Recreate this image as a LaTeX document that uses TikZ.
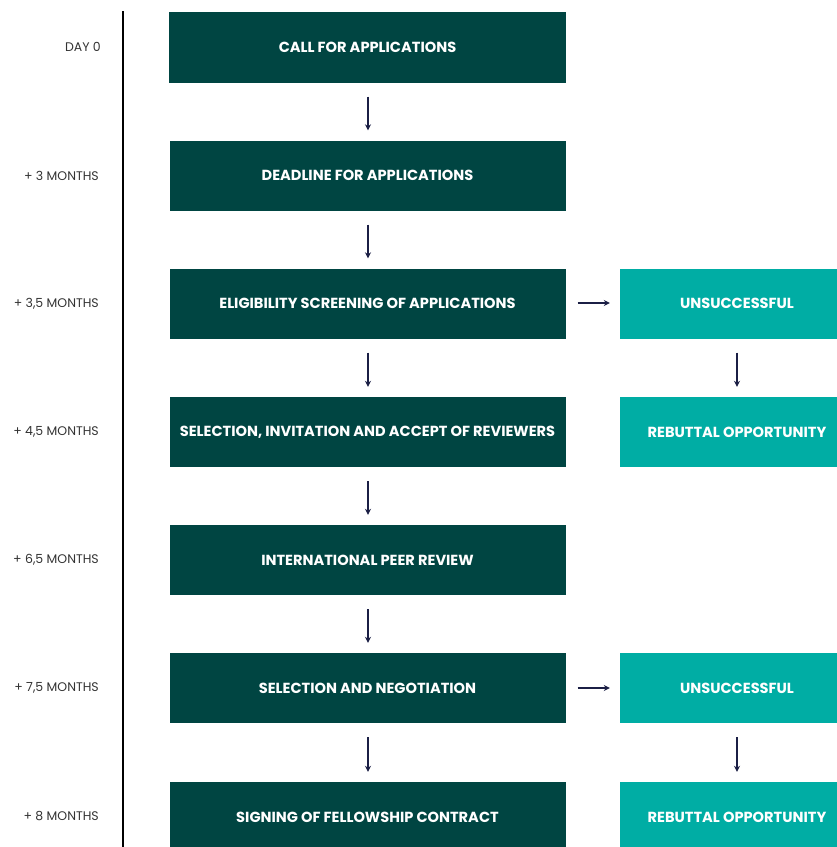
\documentclass[tikz,border=0pt]{standalone}
\usepackage{fontspec}
\setmainfont{Poppins}
\usetikzlibrary{arrows.meta}
\definecolor{darkteal}{HTML}{004542}
\definecolor{lightteal}{HTML}{00ADA4}
\definecolor{arrowblue}{HTML}{1B1F45}
\definecolor{labelgray}{HTML}{333333}
\tikzset{
  mainbox/.style={fill=darkteal, text=white, minimum width=396pt, minimum height=70pt, inner sep=0pt, font=\fontsize{14.6}{17}\selectfont\bfseries},
  sidebox/.style={fill=lightteal, text=white, minimum width=234pt, minimum height=70pt, inner sep=0pt, font=\fontsize{14.6}{17}\selectfont\bfseries},
  timelabel/.style={anchor=east, text=labelgray, inner sep=0pt, font=\fontsize{12.5}{15}\selectfont},
  arr/.style={draw=arrowblue, line width=1.6pt, -{Stealth[length=6pt,width=6pt]}},
}
\begin{document}
\begin{tikzpicture}[x=1pt,y=-1pt]
\useasboundingbox (0,0) rectangle (837,847);
% timeline
\coordinate (tltop) at (123,11);
\coordinate (tlbot) at (123,847);
\draw[line width=1.5pt, black] (tltop) -- (tlbot);
% main boxes
\node[mainbox, minimum width=397pt, minimum height=71pt] (m1) at (367.5,47) {CALL FOR APPLICATIONS};
\node[mainbox] (m2) at (367.5,175.5) {DEADLINE FOR APPLICATIONS};
\node[mainbox] (m3) at (367.5,303.5) {ELIGIBILITY SCREENING OF APPLICATIONS};
\node[mainbox] (m4) at (367.5,432) {SELECTION, INVITATION AND ACCEPT OF REVIEWERS};
\node[mainbox] (m5) at (367.5,560) {INTERNATIONAL PEER REVIEW};
\node[mainbox] (m6) at (367.5,688) {SELECTION AND NEGOTIATION};
\node[mainbox] (m7) at (367.5,817) {SIGNING OF FELLOWSHIP CONTRACT};
% side boxes
\node[sidebox] (s1) at (737,303.5) {UNSUCCESSFUL};
\node[sidebox] (s2) at (737,432) {REBUTTAL OPPORTUNITY};
\node[sidebox] (s3) at (737,688) {UNSUCCESSFUL};
\node[sidebox] (s4) at (737,817) {REBUTTAL OPPORTUNITY};
% labels
\node[timelabel] (l1) at (101,46.5) {DAY 0};
\node[timelabel] (l2) at (99,175.5) {+ 3 MONTHS};
\node[timelabel] (l3) at (99,303.5) {+ 3,5 MONTHS};
\node[timelabel] (l4) at (99,431.5) {+ 4,5 MONTHS};
\node[timelabel] (l5) at (99,559.5) {+ 6,5 MONTHS};
\node[timelabel] (l6) at (99,687.5) {+ 7,5 MONTHS};
\node[timelabel] (l7) at (99,816.5) {+ 8 MONTHS};
% arrows
\foreach \a/\b in {m1/m2,m2/m3,m3/m4,m4/m5,m5/m6,m6/m7}{
  \draw[arr] ([xshift=0.5pt,yshift=-14pt]\a.south) -- ([xshift=0.5pt,yshift=10pt]\b.north);
}
\foreach \a/\b in {s1/s2,s3/s4}{
  \draw[arr] ([yshift=-14pt]\a.south) -- ([yshift=10pt]\b.north);
}
\draw[arr] ([xshift=12pt,yshift=0.5pt]m3.east) -- ([xshift=-10pt,yshift=0.5pt]s1.west);
\draw[arr] ([xshift=12pt]m6.east) -- ([xshift=-10pt]s3.west);
\end{tikzpicture}
\end{document}
